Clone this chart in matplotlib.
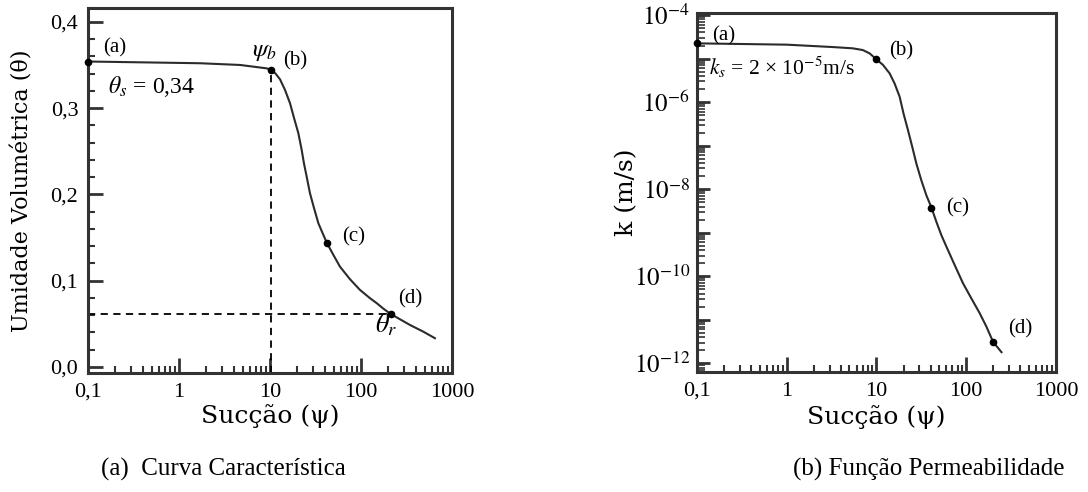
import matplotlib
matplotlib.use('Agg')
import matplotlib.pyplot as plt
import matplotlib.ticker as mticker
import numpy as np

plt.rcParams['font.family'] = 'serif'
plt.rcParams['font.serif'] = ['Liberation Serif', 'DejaVu Serif']
plt.rcParams['mathtext.fontset'] = 'stix'

# (a) curva caracteristica
suc_theta = [0.1, 1.7, 4.7, 9.3, 10.2, 11.4, 12.9, 14.6, 16.6, 18.4, 20.5, 22.3, 23.6, 25.3,
             27.5, 30.5, 34.0, 37.9, 42.0, 49.7, 58.7, 75.7, 97.5, 125.6, 149, 176, 212,
             268, 345, 484, 650]
theta = [0.354, 0.352, 0.350, 0.346, 0.344, 0.3405, 0.3333, 0.3212, 0.3057, 0.2883, 0.2709,
         0.2516, 0.2362, 0.2206, 0.2014, 0.1840, 0.1666, 0.1550, 0.1441, 0.1299, 0.1163,
         0.1017, 0.0893, 0.0797, 0.0739, 0.0676, 0.0614, 0.0553, 0.0487, 0.0409, 0.0333]
pts_theta_x = [0.1, 10.2, 42.0, 212]
pts_theta_y = [0.354, 0.344, 0.1441, 0.0614]
psi_b = 10.2
theta_r = 0.0614

# (b) funcao permeabilidade
suc_k = [0.1, 1, 3.25, 5.43, 7.03, 8.36, 9.9, 11.8, 14.0, 15.9, 18.1, 20.0, 22.4, 25.0, 27.8,
         31.6, 35.9, 40.9, 46.4, 52.8, 60.1, 74.4, 92, 114, 141.6, 168, 199, 247]
k = [2.25e-5, 2.1e-5, 1.85e-5, 1.73e-5, 1.58e-5, 1.33e-5, 9.8e-6, 7.2e-6, 4.6e-6, 2.7e-6,
     1.34e-6, 5.5e-7, 2.3e-7, 9.5e-8, 3.9e-8, 1.6e-8, 7.3e-9, 3.8e-9, 1.8e-9, 8.8e-10,
     4.8e-10, 1.8e-10, 6.9e-11, 3.1e-11, 1.4e-11, 6.9e-12, 3.1e-12, 1.8e-12]
pts_k_x = [0.1, 9.9, 40.9, 199]
pts_k_y = [2.25e-5, 9.8e-6, 3.8e-9, 3.1e-12]

x_ticks = [0.1, 1, 10, 100, 1000]
x_labels = ['0,1', '1', '10', '100', '1000']
theta_ticks = [0.0, 0.1, 0.2, 0.3, 0.4]
theta_labels = ['0,0', '0,1', '0,2', '0,3', '0,4']

line_c = '#2b2b2b'
spine_c = '#333333'
lab_font = ['DejaVu Serif']

fig = plt.figure(figsize=(10.88, 4.92), dpi=100)
ax1 = fig.add_axes([0.0809, 0.2419, 0.3345, 0.7418])
ax2 = fig.add_axes([0.6406, 0.2439, 0.3300, 0.7297])


def style_axes(ax, ylab_y):
    for s in ax.spines.values():
        s.set_linewidth(2.2)
        s.set_color(spine_c)
    ax.tick_params(which='both', direction='in', top=False, right=False,
                   color=spine_c, labelsize=16, pad=7)
    ax.tick_params(which='major', length=11, width=2)
    ax.tick_params(which='minor', length=5, width=1.5)
    ax.set_xscale('log')
    ax.set_xlim(0.1, 1000)
    ax.set_xticks(x_ticks)
    ax.set_xticklabels(x_labels)
    ax.xaxis.set_minor_locator(mticker.LogLocator(base=10, subs=np.arange(2, 10), numticks=20))
    ax.xaxis.set_minor_formatter(mticker.NullFormatter())
    ax.set_xlabel('Sucção (ψ)', fontsize=18, family=lab_font, va='top')
    ax.xaxis.set_label_coords(0.5, ylab_y)


# ---- painel (a)
style_axes(ax1, -0.085)
ax1.set_ylim(-0.007, 0.416)
ax1.set_yticks(theta_ticks)
ax1.set_yticklabels(theta_labels)
ax1.yaxis.set_minor_locator(mticker.MultipleLocator(0.02))
ax1.plot(suc_theta, theta, color=line_c, lw=1.5, clip_on=False, zorder=3)
ax1.plot(pts_theta_x, pts_theta_y, 'o', color='black', ms=4.5, clip_on=False, zorder=4)
ax1.plot([psi_b, psi_b], [-0.007, pts_theta_y[1]], color='black', lw=1.3, dashes=(4, 3))
ax1.plot([0.1, pts_theta_x[3]], [theta_r, theta_r], color='black', lw=1.3, dashes=(4, 3))
ax1.set_ylabel('Umidade Volumétrica (θ)', fontsize=16, family=lab_font)
ax1.yaxis.set_label_coords(-0.150, 0.5)

ax1.text(0.146, 0.364, '(a)', fontsize=15)
ax1.text(6.4, 0.360, r'$\psi_b$', fontsize=18)
ax1.text(13.9, 0.349, '(b)', fontsize=15)
ax1.text(0.166, 0.318, r'$\theta_s$ = 0,34', fontsize=17)
ax1.text(62, 0.145, '(c)', fontsize=15)
ax1.text(255, 0.074, '(d)', fontsize=15)
ax1.text(143, 0.040, r'$\theta_r$', fontsize=19)

# ---- painel (b)
style_axes(ax2, -0.092)
ax2.set_yscale('log')
ax2.set_ylim(10 ** -12.2, 10 ** -3.95)
dec = [10.0 ** e for e in range(-12, -3)]
ax2.set_yticks(dec)
ax2.set_yticklabels([r'$10^{%d}$' % e if e % 2 == 0 else '' for e in range(-12, -3)])
ax2.yaxis.set_minor_locator(mticker.LogLocator(base=10, subs=np.arange(2, 10), numticks=30))
ax2.yaxis.set_minor_formatter(mticker.NullFormatter())
ax2.tick_params(axis='y', which='major', length=9, labelsize=18, pad=5)
ax2.tick_params(axis='y', which='minor', length=6, width=1.2)
ax2.plot(suc_k, k, color=line_c, lw=1.5, clip_on=False, zorder=3)
ax2.plot(pts_k_x, pts_k_y, 'o', color='black', ms=4.5, clip_on=False, zorder=4)
ax2.set_ylabel('k (m/s)', fontsize=18, family=lab_font)
ax2.yaxis.set_label_coords(-0.164, 0.5)

ax2.text(0.147, 2.6e-5, '(a)', fontsize=15)
ax2.text(0.136, 4.2e-6, r'$k_s$ = 2 × 10$^{-5}$m/s', fontsize=15.5)
ax2.text(14, 1.2e-5, '(b)', fontsize=15)
ax2.text(60, 3.0e-9, '(c)', fontsize=15)
ax2.text(291, 4.9e-12, '(d)', fontsize=15)

fig.text(0.205, 0.045, '(a)  Curva Característica', ha='center', va='center', fontsize=18)
fig.text(0.854, 0.045, '(b) Função Permeabilidade', ha='center', va='center', fontsize=18)

fig.savefig('out.png', dpi=100)
